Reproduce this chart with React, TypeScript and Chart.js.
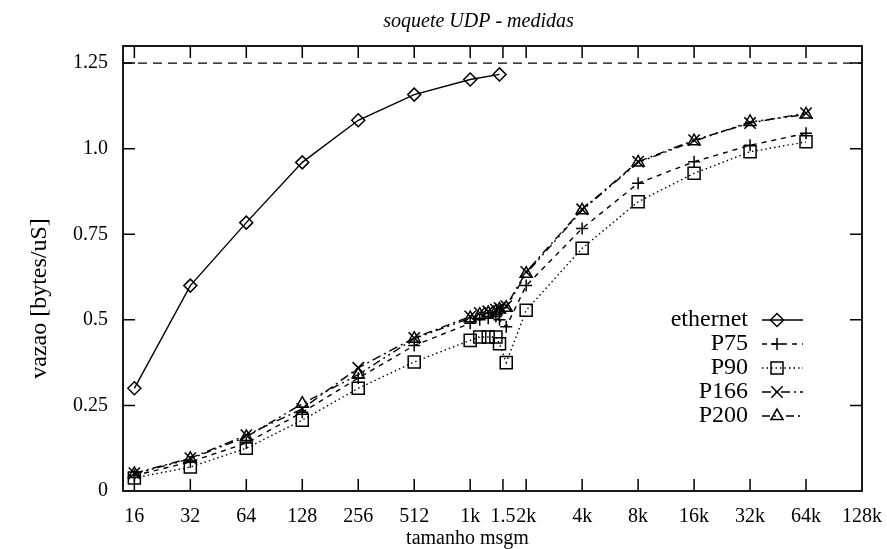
import React, { useEffect, useRef } from 'react';
import { Chart, registerables } from 'chart.js';
import { drawPoint } from 'chart.js/helpers';

Chart.register(...registerables);

// ---- text ----
const chartTitle = 'soquete UDP - medidas';
const xAxisTitle = 'tamanho msgm';
const yAxisTitle = 'vazao [bytes/uS]';

// ---- ticks ----
const xTickValues = [16, 32, 64, 128, 256, 512, 1024, 1536, 2048, 4096, 8192, 16384, 32768, 65536, 131072];
const xTickLabels = ['16', '32', '64', '128', '256', '512', '1k', '1.5', '2k', '4k', '8k', '16k', '32k', '64k', '128k'];
const yTickValues = [0, 0.25, 0.5, 0.75, 1.0, 1.25];
const yTickLabels = ['0', '0.25', '0.5', '0.75', '1.0', '1.25'];
const limitLine = 1.25;

// ---- data ----
const ethernetSizes = [16, 32, 64, 128, 256, 512, 1024, 1472];
const ethernetValues = [0.30, 0.60, 0.784, 0.96, 1.083, 1.158, 1.202, 1.217];

const pcSizes = [16, 32, 64, 128, 256, 512, 1024, 1152, 1280, 1408, 1472, 1600, 2048, 4096, 8192, 16384, 32768, 65536];
const p75Values = [0.045, 0.085, 0.14, 0.23, 0.33, 0.425, 0.49, 0.50, 0.505, 0.51, 0.50, 0.48, 0.60, 0.767, 0.899, 0.962, 1.01, 1.045];
const p90Values = [0.038, 0.07, 0.125, 0.207, 0.30, 0.377, 0.44, 0.45, 0.45, 0.45, 0.43, 0.375, 0.528, 0.709, 0.845, 0.928, 0.991, 1.02];
const p166Values = [0.052, 0.096, 0.163, 0.24, 0.36, 0.447, 0.51, 0.52, 0.525, 0.53, 0.535, 0.54, 0.64, 0.823, 0.962, 1.025, 1.075, 1.104];
const p200Values = [0.05, 0.094, 0.158, 0.255, 0.34, 0.445, 0.505, 0.515, 0.52, 0.525, 0.53, 0.535, 0.635, 0.82, 0.96, 1.022, 1.078, 1.10];

const FONT = '"Liberation Serif", "Times New Roman", serif';

const toPoints = (xs: number[], ys: number[]) => xs.map((x, i) => ({ x, y: ys[i] }));

const mkDataset = (label: string, xs: number[], ys: number[], dash: number[], style: string, radius: number) => ({
  label,
  data: toPoints(xs, ys),
  borderColor: '#000',
  borderWidth: 1.4,
  borderDash: dash,
  pointStyle: style,
  pointRadius: radius,
  pointBorderColor: '#000',
  pointBackgroundColor: 'rgba(0,0,0,0)',
  pointBorderWidth: 1.5,
  tension: 0,
  fill: false,
});

const framePlugin = {
  id: 'gnuframe',
  beforeDatasetsDraw(chart: any) {
    const { ctx, chartArea: a, scales } = chart;
    const y = scales.y.getPixelForValue(limitLine);
    ctx.save();
    ctx.strokeStyle = '#000';
    ctx.lineWidth = 1.2;
    ctx.setLineDash([9, 6]);
    ctx.beginPath();
    ctx.moveTo(a.left, y);
    ctx.lineTo(a.right, y);
    ctx.stroke();
    ctx.restore();
  },
  afterDraw(chart: any) {
    const { ctx, chartArea: a, scales } = chart;
    ctx.save();
    ctx.strokeStyle = '#000';
    ctx.lineWidth = 1.8;
    ctx.setLineDash([]);
    ctx.strokeRect(a.left, a.top, a.right - a.left, a.bottom - a.top);
    const tl = 12;
    ctx.lineWidth = 1.5;
    ctx.beginPath();
    xTickValues.forEach((v) => {
      const px = scales.x.getPixelForValue(v);
      if (px > a.right - 1) return;
      ctx.moveTo(px, a.bottom);
      ctx.lineTo(px, a.bottom - tl);
      ctx.moveTo(px, a.top);
      ctx.lineTo(px, a.top + tl);
    });
    yTickValues.forEach((v) => {
      const py = scales.y.getPixelForValue(v);
      if (py > a.bottom - 1) return;
      ctx.moveTo(a.left, py);
      ctx.lineTo(a.left + tl, py);
      ctx.moveTo(a.right, py);
      ctx.lineTo(a.right - tl, py);
    });
    ctx.stroke();

    // titles
    ctx.fillStyle = '#000';
    ctx.textAlign = 'center';
    ctx.textBaseline = 'middle';
    ctx.font = `italic 20px ${FONT}`;
    ctx.fillText(chartTitle, (a.left + a.right) / 2 - 14, a.top - 24);
    ctx.font = `20px ${FONT}`;
    ctx.fillText(xAxisTitle, (a.left + a.right) / 2 - 25, a.bottom + 48);
    ctx.save();
    ctx.font = `24px ${FONT}`;
    ctx.translate(40, (a.top + a.bottom) / 2 + 30);
    ctx.rotate(-Math.PI / 2);
    ctx.fillText(yAxisTitle, 0, 0);
    ctx.restore();

    // legend (gnuplot style: label right-aligned, sample to the right)
    const textRight = a.right - 114;
    const lineStart = a.right - 100;
    const lineEnd = a.right - 59;
    const markX = a.right - 85;
    const top = a.top + 274;
    const gap = 24;
    ctx.font = `24px ${FONT}`;
    ctx.textAlign = 'right';
    chart.data.datasets.forEach((d: any, i: number) => {
      const yy = top + i * gap;
      ctx.fillStyle = '#000';
      ctx.fillText(d.label, textRight, yy);
      ctx.strokeStyle = '#000';
      ctx.lineWidth = d.borderWidth;
      ctx.setLineDash(d.borderDash || []);
      ctx.beginPath();
      ctx.moveTo(lineStart, yy);
      ctx.lineTo(lineEnd, yy);
      ctx.stroke();
      ctx.setLineDash([]);
      ctx.lineWidth = d.pointBorderWidth;
      ctx.fillStyle = 'rgba(0,0,0,0)';
      drawPoint(ctx, { pointStyle: d.pointStyle, radius: d.pointRadius, borderWidth: d.pointBorderWidth, rotation: 0 }, markX, yy);
    });
    ctx.restore();
  },
};

export default function App() {
  const ref = useRef<HTMLCanvasElement | null>(null);
  useEffect(() => {
    if (!ref.current) return;
    const chart = new Chart(ref.current, {
      type: 'line',
      data: {
        datasets: [
          mkDataset('ethernet', ethernetSizes, ethernetValues, [], 'rectRot', 6.5),
          mkDataset('P75', pcSizes, p75Values, [5, 5], 'cross', 6),
          mkDataset('P90', pcSizes, p90Values, [1.5, 3], 'rect', 8.5),
          mkDataset('P166', pcSizes, p166Values, [9, 4, 2, 4], 'crossRot', 8),
          mkDataset('P200', pcSizes, p200Values, [8, 4, 2, 4, 2, 4], 'triangle', 7),
        ] as any,
      },
      options: {
        responsive: false,
        animation: false,
        devicePixelRatio: 1,
        layout: { padding: { left: 0, right: 25, top: 46, bottom: 0 } },
        plugins: {
          legend: { display: false },
          title: { display: false },
          tooltip: { enabled: false },
        },
        scales: {
          x: {
            type: 'logarithmic',
            min: 13.9,
            max: 131072,
            grid: { display: false },
            border: { display: false },
            afterFit: (s: any) => { s.height = 58; s.paddingLeft = 0; s.paddingRight = 0; },
            afterBuildTicks: (s: any) => { s.ticks = xTickValues.map((v) => ({ value: v })); },
            ticks: {
              autoSkip: false,
              maxRotation: 0,
              minRotation: 0,
              padding: 6,
              color: '#000',
              font: { family: FONT, size: 20 },
              callback: (v: any) => {
                const i = xTickValues.indexOf(Number(v));
                return i >= 0 ? xTickLabels[i] : '';
              },
            },
          },
          y: {
            type: 'linear',
            min: 0,
            max: 1.3,
            grid: { display: false },
            border: { display: false },
            afterFit: (s: any) => { s.width = 123; s.paddingTop = 0; s.paddingBottom = 0; },
            afterBuildTicks: (s: any) => { s.ticks = yTickValues.map((v) => ({ value: v })); },
            ticks: {
              padding: 7,
              color: '#000',
              font: { family: FONT, size: 20 },
              callback: (v: any) => {
                const i = yTickValues.indexOf(Number(v));
                return i >= 0 ? yTickLabels[i] : '';
              },
            },
          },
        },
      },
      plugins: [framePlugin],
    });
    return () => chart.destroy();
  }, []);
  return (
    <div style={{ position: 'fixed', left: 0, top: 0, width: 887, height: 549, background: '#fff' }}>
      <canvas ref={ref} width={887} height={549} />
    </div>
  );
}
